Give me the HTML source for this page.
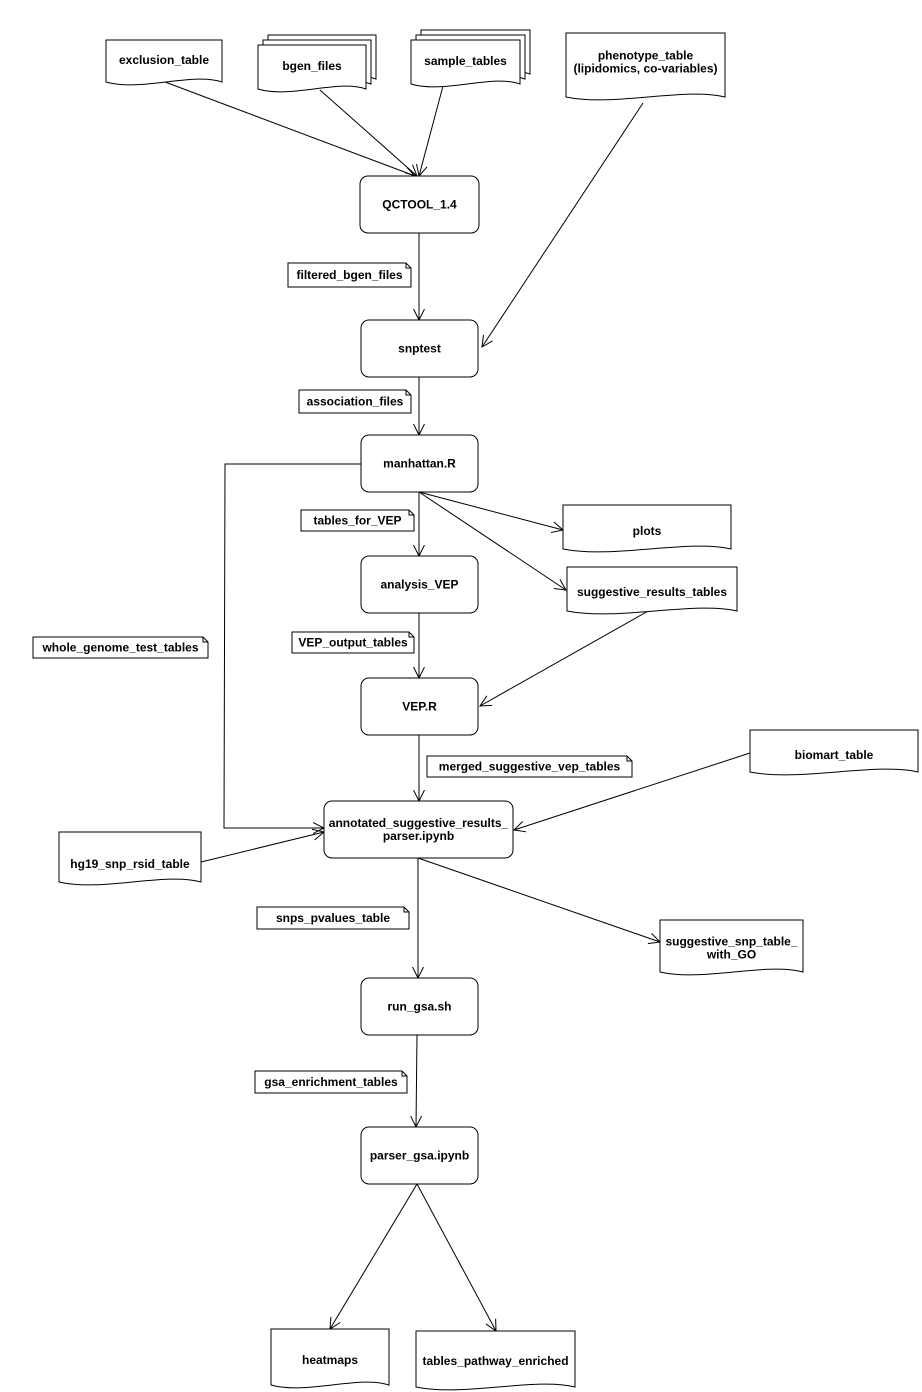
<!DOCTYPE html>
<html><head><meta charset="utf-8"><style>
html,body{margin:0;padding:0;background:#fff;}
svg{display:block;}
text{font-family:"Liberation Sans",Arial,sans-serif;font-weight:bold;font-size:12px;fill:#000;text-anchor:middle;}
</style></head><body>
<svg id="s" width="922" height="1392" viewBox="0 0 922 1392" xmlns="http://www.w3.org/2000/svg">
<defs><marker id="a" viewBox="0 0 12 12" refX="11" refY="6" markerWidth="12" markerHeight="12" markerUnits="userSpaceOnUse" orient="auto"><path d="M0,0.5 L11,6 L0,11.5" fill="none" stroke="#000" stroke-width="1"/></marker></defs>
<g id="g" fill="#fff" stroke="#000" stroke-width="1"></g>
<g id="t"></g>
</svg>
<script>
var g=document.getElementById('g'),T=document.getElementById('t'),NS='http://www.w3.org/2000/svg';
function el(n,a,p){var e=document.createElementNS(NS,n);for(var k in a)e.setAttribute(k,a[k]);(p||g).appendChild(e);return e;}
function txt(x,y,lines){lines.forEach(function(s,i){var e=el('text',{x:x,y:y+i*13-(lines.length-1)*6.5+4},T);e.textContent=s;});}
function doc(x,y,w,h){var b=y+h;el('path',{d:'M'+x+','+y+' H'+(x+w)+' V'+(b-4)+' C'+(x+w*0.75)+','+(b-14)+' '+(x+w*0.3)+','+(b+6)+' '+x+','+(b-4)+' Z'});}
function D(x,y,w,h,l,ty){doc(x,y,w,h);txt(x+w/2,ty||(y+h/2-3),l);}
function S(x,y,w,h,l){doc(x+10,y-10,w,h);doc(x+5,y-5,w,h);doc(x,y,w,h);txt(x+w/2,y+h/2-3,l);}
function R(x,y,w,h,l){el('rect',{x:x,y:y,width:w,height:h,rx:8,ry:8});txt(x+w/2,y+h/2,l);}
function N(x,y,w,h,l){el('path',{d:'M'+x+','+y+' H'+(x+w-5)+' L'+(x+w)+','+(y+5)+' V'+(y+h)+' H'+x+' Z'});el('path',{d:'M'+(x+w-5)+','+y+' V'+(y+5)+' H'+(x+w),fill:'none'});txt(x+w/2,y+h/2,l);}
function L(pts){el('polyline',{points:pts,fill:'none','marker-end':'url(#a)'});}
// edges
L('165,82 415,176');L('320,90 417,176');L('443,86 419,176');L('643,103 482,347');
L('419,233 419,320');L('419,377 419,435');L('419,492 419,556');L('419,492 563,530');L('419,492 566,590');
L('361,464 225,464 224,828 324,828');L('419,613 419,678');L('650,610 480,706');L('419,735 419,801');
L('750,753 514,830');L('201,862 324,832');L('418,858 418,978');L('418,858 660,942');
L('417,1035 416,1127');L('417,1184 330,1329');L('417,1184 496,1331');
// docs
D(106,40,116,46,['exclusion_table']);
S(258,45,108,48,['bgen_files']);
S(411,40,109,48,['sample_tables']);
D(566,33,159,68,['phenotype_table','(lipidomics, co-variables)'],62);
D(563,505,168,48,['plots'],531);
D(567,567,170,48,['suggestive_results_tables'],592);
D(750,730,168,46,['biomart_table'],755);
D(59,832,142,54,['hg19_snp_rsid_table'],864);
D(660,920,143,56,['suggestive_snp_table_','with_GO'],948);
D(271,1329,118,60,['heatmaps'],1360);
D(416,1331,159,60,['tables_pathway_enriched'],1361);
// process
R(360,176,119,57,['QCTOOL_1.4']);R(361,320,117,57,['snptest']);R(361,435,117,57,['manhattan.R']);
R(361,556,117,57,['analysis_VEP']);R(361,678,117,57,['VEP.R']);
R(324,801,189,57,['annotated_suggestive_results_','parser.ipynb']);
R(361,978,117,57,['run_gsa.sh']);R(361,1127,117,57,['parser_gsa.ipynb']);
// notes
N(288,263,123,24,['filtered_bgen_files']);N(299,390,112,23,['association_files']);
N(301,510,113,21,['tables_for_VEP']);N(33,637,175,21,['whole_genome_test_tables']);
N(292,632,122,21,['VEP_output_tables']);N(427,756,205,21,['merged_suggestive_vep_tables']);
N(257,907,152,22,['snps_pvalues_table']);N(255,1071,152,22,['gsa_enrichment_tables']);
</script>
</body></html>
